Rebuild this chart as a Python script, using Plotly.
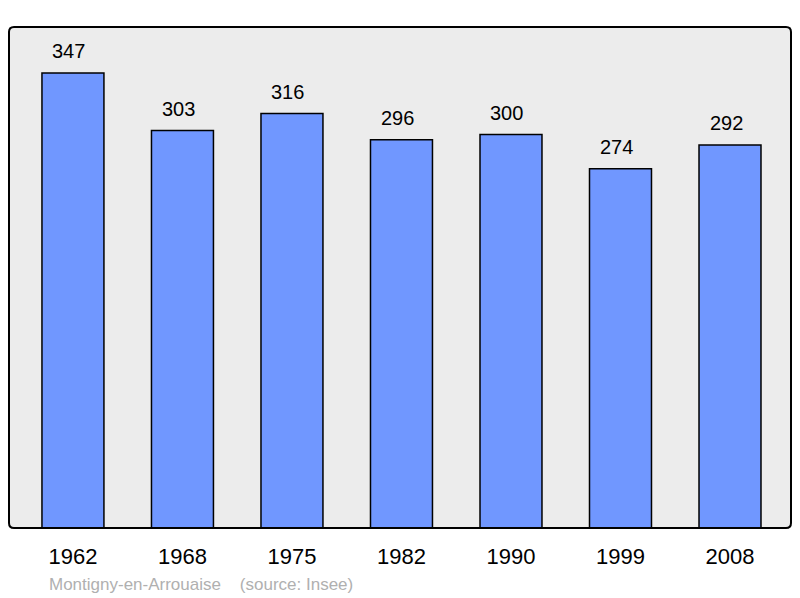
import plotly.graph_objects as go

years = ["1962", "1968", "1975", "1982", "1990", "1999", "2008"]
population = [347, 303, 316, 296, 300, 274, 292]
footer_text = "Montigny-en-Arrouaise    (source: Insee)"

bar_color = "#7097ff"
bg_color = "#ececec"

fig = go.Figure()
fig.add_trace(go.Bar(x=years, y=population, marker_color=bar_color,
                     marker_line_color="black", marker_line_width=1.5,
                     hoverinfo="x+y"))

# value labels above bars (x given as category index)
for i, v in enumerate(population):
    fig.add_annotation(x=i, y=v, text=str(v), showarrow=False, yanchor="bottom",
                       yshift=9, xshift=-4, font=dict(size=20, color="black"))

fig.add_annotation(x=0.049, y=-0.112, xref="paper", yref="paper", text=footer_text,
                   showarrow=False, xanchor="left", yanchor="middle",
                   font=dict(size=17, color="#b0b0b0"))

# rounded border round the plot area
rx, ry = 5 / 782, 5 / 501
path = (f"M {rx},0 L {1-rx},0 Q 1,0 1,{ry} L 1,{1-ry} Q 1,1 {1-rx},1 "
        f"L {rx},1 Q 0,1 0,{1-ry} L 0,{ry} Q 0,0 {rx},0 Z")
fig.add_shape(type="path", path=path, xref="paper", yref="paper",
              line=dict(color="black", width=2), layer="above")

fig.update_layout(
    width=800, height=598,
    margin=dict(l=9, r=9, t=27, b=70),
    paper_bgcolor="white", plot_bgcolor=bg_color,
    font=dict(family="Liberation Sans, Arial, sans-serif", color="black"),
    bargap=0.434, showlegend=False,
    xaxis=dict(type="category", range=[-0.584, 6.557], showgrid=False, zeroline=False,
               ticks="outside", ticklen=9, tickcolor="rgba(0,0,0,0)",
               tickfont=dict(size=22), showline=False),
    yaxis=dict(range=[0, 382], showgrid=False, zeroline=False, showticklabels=False,
               ticks="", showline=False),
)

fig.write_html("out.html", config={"displayModeBar": False},
               post_script="document.body.style.margin='0';")
